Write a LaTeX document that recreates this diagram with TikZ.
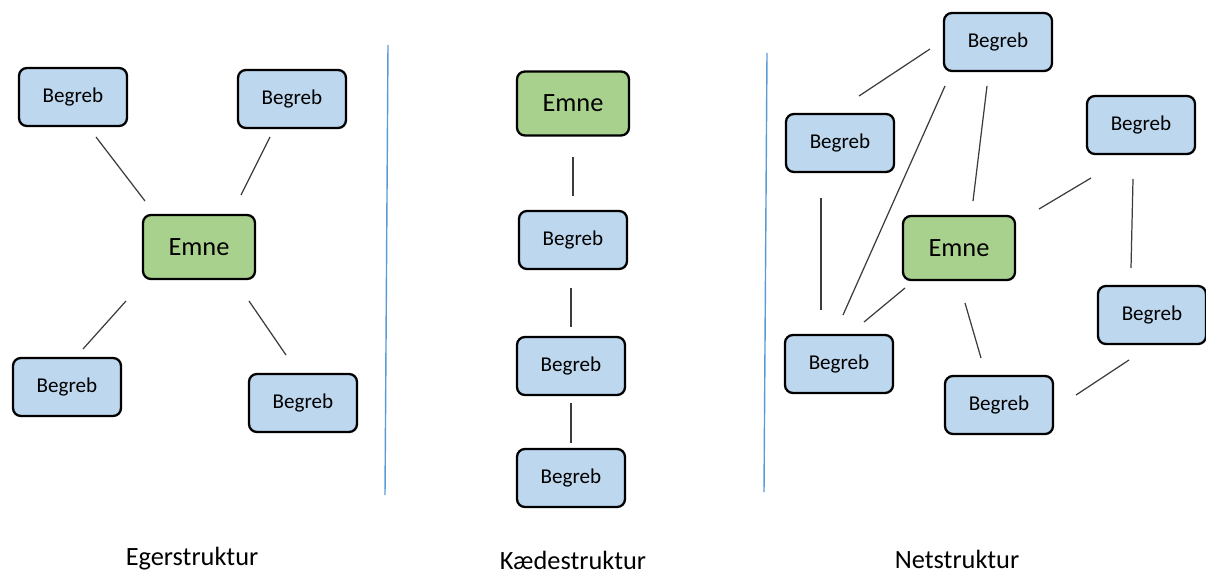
\documentclass[tikz,border=0pt]{standalone}
\usepackage{fontspec}
\setmainfont{Carlito}
\definecolor{bfill}{RGB}{189,215,238}
\definecolor{gfill}{RGB}{169,209,142}
\definecolor{divblue}{RGB}{91,155,213}
\definecolor{conn}{RGB}{60,60,60}
\tikzset{
  begreb/.style={draw=black, line width=1.3pt, rounded corners=4.5pt, fill=bfill,
    minimum width=2.16cm, minimum height=1.16cm, inner sep=0pt, font=\fontsize{12}{14}\selectfont},
  emne/.style={draw=black, line width=1.3pt, rounded corners=4.5pt, fill=gfill,
    minimum width=2.24cm, minimum height=1.28cm, inner sep=0pt, font=\fontsize{15}{18}\selectfont},
  conline/.style={draw=conn, line width=0.7pt},
  divider/.style={draw=divblue, line width=0.8pt},
  caption/.style={font=\fontsize{15}{18}\selectfont, inner sep=0pt}
}
\begin{document}
\begin{tikzpicture}[x=0.02cm, y=-0.02cm]
\useasboundingbox (0,0) rectangle (1206,574);
% ---------- Egerstruktur ----------
\node[begreb] (e1) at (73,97) {Begreb};
\node[begreb] (e2) at (292,99) {Begreb};
\node[emne]   (e0) at (199,247) {Emne};
\node[begreb] (e3) at (67,387) {Begreb};
\node[begreb] (e4) at (303,403) {Begreb};
\coordinate (ea1) at (96,137);  \coordinate (eb1) at (145,201);
\coordinate (ea2) at (270,137); \coordinate (eb2) at (241,195);
\coordinate (ea3) at (126,301); \coordinate (eb3) at (83,349);
\coordinate (ea4) at (249,301); \coordinate (eb4) at (286,355);
\draw[conline] (ea1) -- (eb1);
\draw[conline] (ea2) -- (eb2);
\draw[conline] (ea3) -- (eb3);
\draw[conline] (ea4) -- (eb4);
\node[caption] (c1) at (192,559) {Egerstruktur};
% ---------- dividers ----------
\coordinate (d1a) at (388,45);  \coordinate (d1b) at (385,495);
\coordinate (d2a) at (767,53);  \coordinate (d2b) at (764,492);
\draw[divider] (d1a) -- (d1b);
\draw[divider] (d2a) -- (d2b);
% ---------- Kaedestruktur ----------
\node[emne]   (k0) at (573,103.5) {Emne};
\node[begreb] (k1) at (573,240) {Begreb};
\node[begreb] (k2) at (571,366) {Begreb};
\node[begreb] (k3) at (571,478) {Begreb};
\coordinate (ka1) at (573,157); \coordinate (kb1) at (573,196);
\coordinate (ka2) at (571,288); \coordinate (kb2) at (571,327);
\coordinate (ka3) at (571,403); \coordinate (kb3) at (571,443);
\draw[conline] (ka1) -- (kb1);
\draw[conline] (ka2) -- (kb2);
\draw[conline] (ka3) -- (kb3);
\node[caption] (c2) at (573,560) {Kædestruktur};
% ---------- Netstruktur ----------
\node[begreb] (n1) at (998,42) {Begreb};
\node[begreb] (n2) at (840,143) {Begreb};
\node[begreb] (n3) at (1141,125) {Begreb};
\node[emne]   (n0) at (959,248) {Emne};
\node[begreb] (n4) at (1152,315) {Begreb};
\node[begreb] (n5) at (839,364) {Begreb};
\node[begreb] (n6) at (999,405) {Begreb};
\coordinate (na1) at (859,96);   \coordinate (nb1) at (930,49);
\coordinate (na2) at (945,86);   \coordinate (nb2) at (843,315);
\coordinate (na3) at (987,86);   \coordinate (nb3) at (973,201);
\coordinate (na4) at (821,198);  \coordinate (nb4) at (821,310);
\coordinate (na5) at (1091,178); \coordinate (nb5) at (1039,209);
\coordinate (na6) at (1133,179); \coordinate (nb6) at (1131,268);
\coordinate (na7) at (905,288);  \coordinate (nb7) at (864,322);
\coordinate (na8) at (965,303);  \coordinate (nb8) at (981,358);
\coordinate (na9) at (1129,360); \coordinate (nb9) at (1076,395);
\foreach \i in {1,...,9} { \draw[conline] (na\i) -- (nb\i); }
\node[caption] (c3) at (957,559) {Netstruktur};
\end{tikzpicture}
\end{document}
